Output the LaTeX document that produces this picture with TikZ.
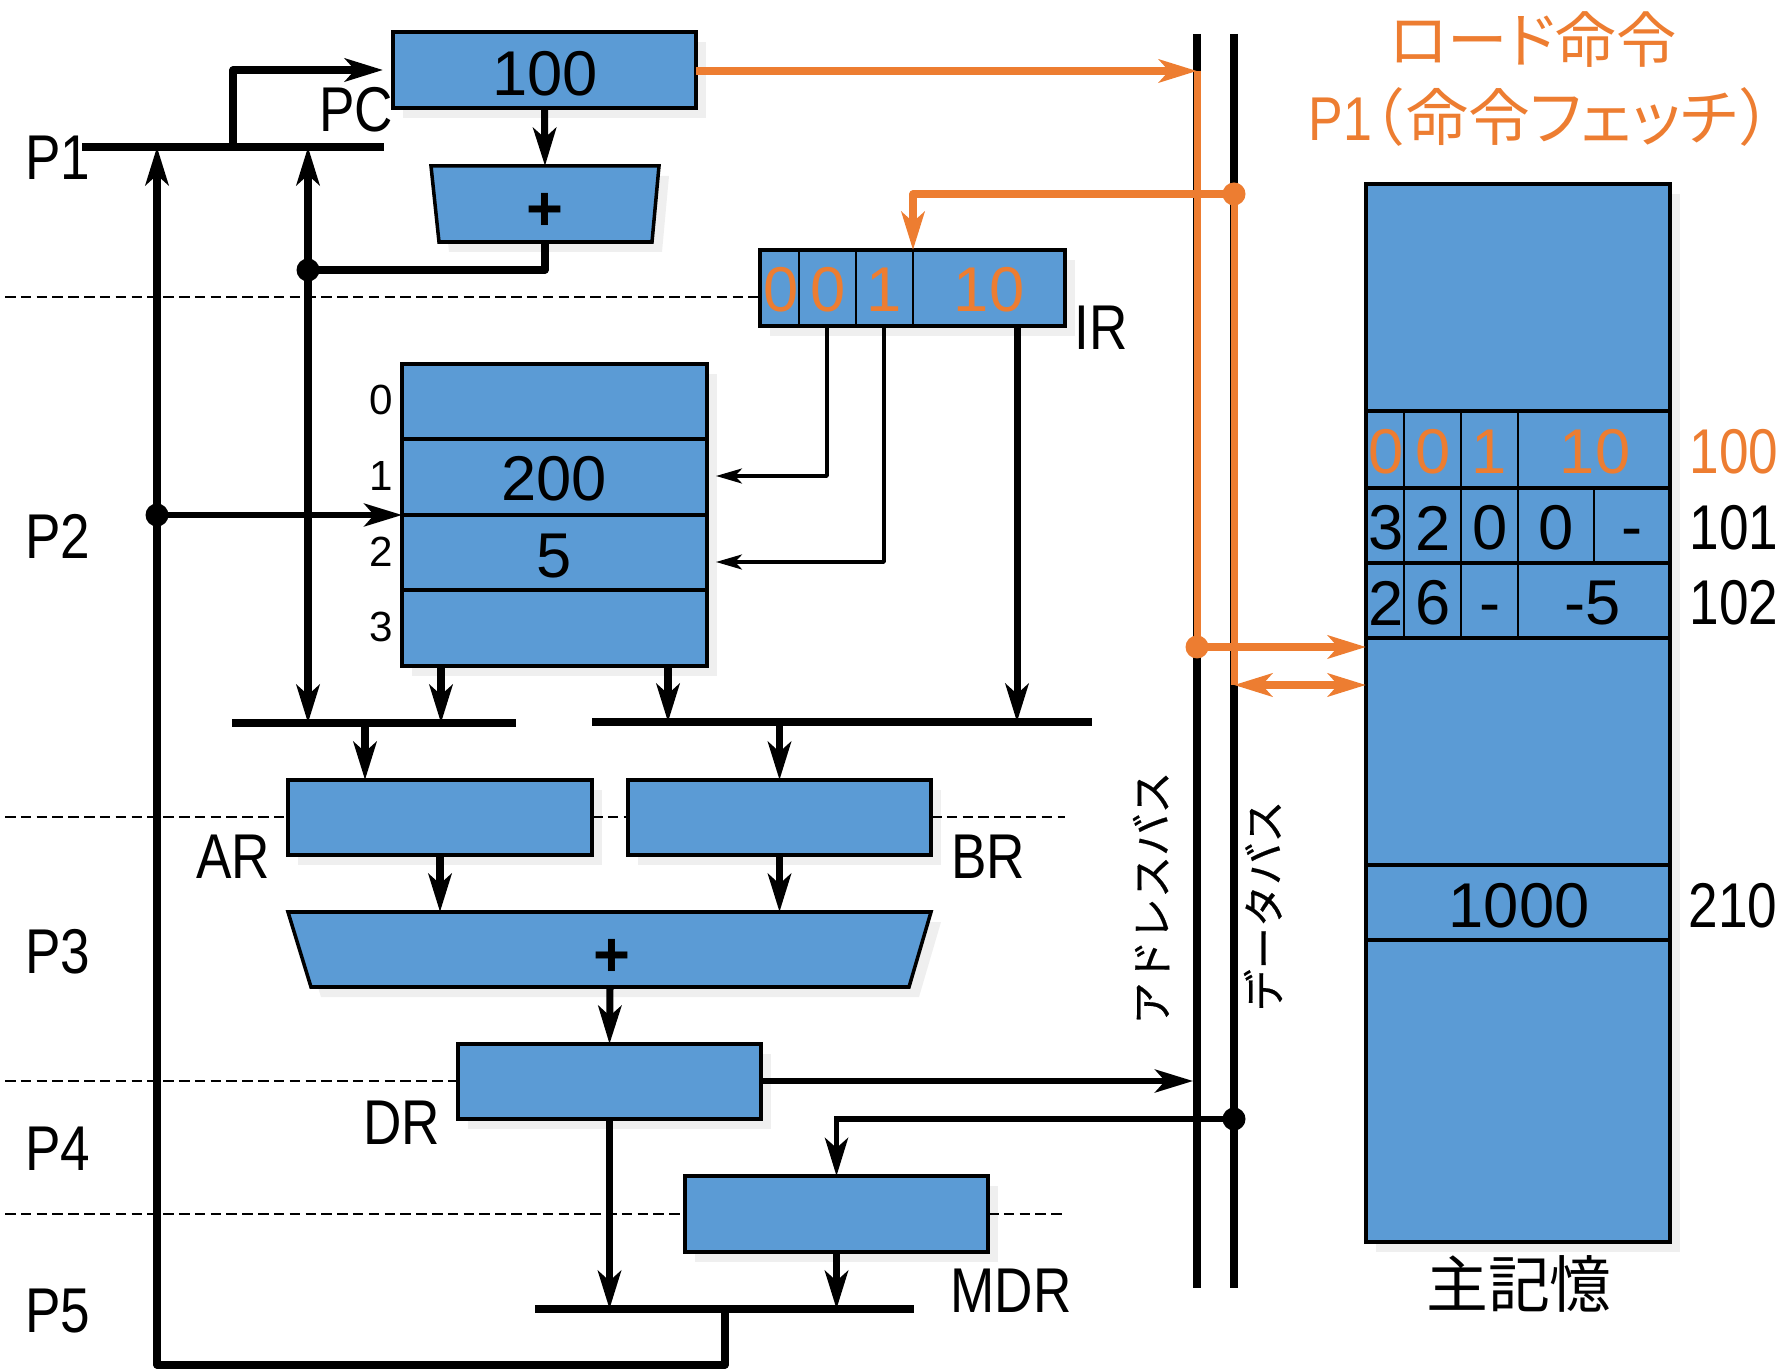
\documentclass[tikz,border=0pt]{standalone}
\usepackage{fontspec}
\setmainfont{Liberation Sans}
\newfontfamily\jpfont[RawFeature=+palt]{Noto Sans CJK JP}
\newfontfamily\jpbusfont[FakeBold=.5]{Noto Sans CJK JP}
\newfontfamily\narrowfont[FakeStretch=.84]{Liberation Sans}
\usetikzlibrary{arrows.meta,calc,positioning,shadows}
\definecolor{cellblue}{RGB}{91,155,213}
\definecolor{loadorange}{RGB}{237,125,49}
\definecolor{shadowgray}{RGB}{239,239,239}
\tikzset{
 softshadow/.style={drop shadow={shadow xshift=.1cm,shadow yshift=-.1cm,fill=shadowgray,opacity=1}},
 cell/.style={draw=black,fill=cellblue,line width=1pt,inner sep=0pt,outer sep=0pt,softshadow},
 adder/.style={draw=black,fill=cellblue,line width=1pt,line join=miter,softshadow},
 bigtext/.style={font=\fontsize{18}{20}\selectfont,inner sep=0pt},
 plustext/.style={font=\bfseries\fontsize{18}{20}\selectfont,inner sep=0pt},
 oranget/.style={bigtext,text=loadorange},
 label/.style={font=\narrowfont\fontsize{18}{20}\selectfont,inner sep=0pt},
 regno/.style={font=\fontsize{12}{14}\selectfont,inner sep=0pt},
 busname/.style={font=\jpbusfont\fontsize{12}{14}\selectfont,rotate=90,inner sep=0pt},
 bar/.style={line width=2.3pt},
 wire/.style={line width=2pt,line join=round},
 thinwire/.style={line width=1pt,line join=round,>={Stealth[length=2.6mm,width=1.5mm,inset=.7mm]}},
 phase/.style={line width=.5pt,dash pattern=on 3pt off 1.5pt},
 loadwire/.style={line width=2pt,draw=loadorange,line join=round,color=loadorange},
 dot/.style={circle,fill,inner sep=0pt,minimum size=.23cm},
 rowline/.style={line width=.9pt},
 cellline/.style={line width=.5pt},
}
\begin{document}
\begin{tikzpicture}[>={Stealth[length=3.8mm,width=2.3mm,inset=1mm]},x=1cm,y=-1cm]
 \useasboundingbox (0,0) rectangle (17.87,13.69);
 % phases
 \coordinate (dashA) at (.05,2.97);
 \coordinate (dashB) at (.05,8.17);
 \coordinate (dashC) at (.05,10.81);
 \coordinate (dashD) at (.05,12.14);
 \coordinate (dashE) at (10.65,8.17);
 \coordinate (dashF) at (10.65,12.14);
 \coordinate (incN) at (5.45,1.66);
 \coordinate (incS) at (5.45,2.42);
 \coordinate (aluN) at (6.10,9.12);
 \coordinate (aluS) at (6.10,9.87);
 \node[cell,minimum width=3.03cm,minimum height=.76cm] (pc) at (5.445,.70) {};
 \draw[adder] (4.31,1.66) -- (6.59,1.66) -- (6.52,2.42) -- (4.39,2.42) -- cycle;
 \node[cell,minimum width=3.05cm,minimum height=.76cm] (ir) at (9.125,2.88) {};
 \node[cell,minimum width=3.05cm,minimum height=3.02cm] (reg) at (5.545,5.15) {};
 \node[cell,minimum width=3.04cm,minimum height=.75cm] (ar) at (4.40,8.175) {};
 \node[cell,minimum width=3.03cm,minimum height=.75cm] (br) at (7.795,8.175) {};
 \draw[adder] (2.88,9.12) -- (9.31,9.12) -- (9.09,9.87) -- (3.11,9.87) -- cycle;
 \node[cell,minimum width=3.03cm,minimum height=.75cm] (dr) at (6.095,10.815) {};
 \node[cell,minimum width=3.03cm,minimum height=.76cm] (mdr) at (8.365,12.14) {};
 \node[cell,minimum width=3.04cm,minimum height=10.58cm] (mem) at (15.18,7.13) {};
 \draw[phase] (dashA) -- (dashA -| ir.west);
 \draw[phase] (dashB) -- (dashB -| ar.west);
 \draw[phase] (ar.east |- dashB) -- (br.west |- dashB);
 \draw[phase] (br.east |- dashB) -- (dashE);
 \draw[phase] (dashC) -- (dashC -| dr.west);
 \draw[phase] (dashD) -- (dashD -| mdr.west);
 \draw[phase] (mdr.east |- dashD) -- (dashF);
 % cell dividers
 \foreach \x in {7.99,8.56,9.13} \draw[cellline] (\x,2.50) -- (\x,3.26);
 \foreach \y in {4.39,5.15,5.90} \draw[rowline] (reg.west |- 0,\y) -- (reg.east |- 0,\y);
 \foreach \y in {4.11,4.88,5.63,6.38,8.65,9.40} \draw[rowline] (mem.west |- 0,\y) -- (mem.east |- 0,\y);
 \foreach \x in {14.04,14.61,15.18} \draw[cellline] (\x,4.11) -- (\x,6.38);
 \draw[cellline] (15.94,4.88) -- (15.94,5.63);
 % buses
 \coordinate (abus) at (11.97,.34);
 \coordinate (dbus) at (12.34,.34);
 \coordinate (abusend) at (11.97,12.88);
 \coordinate (dbusend) at (12.34,12.88);
 \draw[bar] (abus) -- (abusend);
 \draw[bar] (dbus) -- (dbusend);
 \coordinate (oneL) at (.82,1.47);
 \coordinate (oneR) at (3.84,1.47);
 \coordinate (oneA) at (1.57,1.47);
 \coordinate (oneB) at (2.33,1.47);
 \coordinate (oneC) at (3.08,1.47);
 \draw[bar] (oneL) -- (oneR);
 \coordinate (aL) at (2.32,7.23);
 \coordinate (aR) at (5.16,7.23);
 \coordinate (bL) at (5.92,7.22);
 \coordinate (bR) at (10.92,7.22);
 \coordinate (cL) at (5.35,13.09);
 \coordinate (cR) at (9.14,13.09);
 \draw[bar] (aL) -- (aR);
 \draw[bar] (bL) -- (bR);
 \draw[bar] (cL) -- (cR);
 % wires
 \node[dot] (incdot) at (3.08,2.70) {};
 \node[dot] (regdot) at (1.57,5.15) {};
 \coordinate (pcin) at (3.83,.70);
 \coordinate (bottomC) at (7.25,13.65);
 \coordinate (bottomL) at (1.57,13.65);
 \draw[wire,->] (oneB) -- (oneB |- pcin) -- (pcin);
 \draw[wire,->] (pc.south) -- (incN);
 \draw[wire] (incS) -- (incS |- incdot) -- (incdot.center);
 \draw[wire,<->] (oneC) -- (oneC |- aL);
 \draw[wire,->] (bottomC |- cL) -- (bottomC) -- (bottomL) -- (oneA);
 \draw[line width=1.5pt,->] (regdot.center) -- (reg.west);
 \coordinate (irA) at (8.27,3.26);
 \coordinate (irB) at (8.84,3.26);
 \coordinate (irC) at (10.17,3.26);
 \coordinate (regA) at (7.16,4.76);
 \coordinate (regB) at (7.16,5.62);
 \draw[thinwire,->] (irA) -- (irA |- regA) -- (regA);
 \draw[thinwire,->] (irB) -- (irB |- regB) -- (regB);
 \draw[wire,->] (irC) -- (irC |- bL);
 \coordinate (regL) at (4.41,6.66);
 \coordinate (regR) at (6.68,6.66);
 \draw[wire,->] (regL) -- (regL |- aL);
 \draw[wire,->] (regR) -- (regR |- bL);
 \coordinate (arin) at (3.65,7.23);
 \draw[wire,->] (arin) -- (arin |- ar.north);
 \draw[wire,->] (br.north |- bL) -- (br.north);
 \draw[wire,->] (ar.south) -- (ar.south |- aluN);
 \draw[wire,->] (br.south) -- (br.south |- aluN);
 \draw[wire,->] (aluS) -- (dr.north);
 \coordinate (drout) at (11.93,10.81);
 \draw[line width=1.6pt,->] (dr.east |- drout) -- (drout);
 \draw[wire,->] (dr.south) -- (dr.south |- cL);
 \node[dot] (ddotB) at (12.34,11.19) {};
 \draw[line width=1.6pt,->] (ddotB.center) -- (mdr.north |- ddotB) -- (mdr.north);
 \draw[wire,->] (mdr.south) -- (mdr.south |- cL);
 % load instruction fetch
 \coordinate (abusO) at (11.97,.71);
 \coordinate (dbusO) at (12.34,6.85);
 \coordinate (irtop) at (9.13,2.50);
 \node[dot,loadorange] (adot) at (11.97,6.47) {};
 \node[dot,loadorange] (ddot) at (12.34,1.94) {};
 \draw[loadwire] (abusO) -- (adot.center);
 \draw[loadwire] (ddot.center) -- (dbusO);
 \draw[loadwire,->] (pc.east |- abusO) -- (abusO);
 \draw[loadwire,->] (ddot.center) -- (ddot -| irtop) -- (irtop);
 \draw[loadwire,->] (adot.center) -- (adot -| mem.west);
 \draw[loadwire,<->] (dbusO) -- (dbusO -| mem.west);
 % texts
 \node[bigtext] (pcval) at (5.45,.74) {100};
 \node[plustext] (incplus) at (5.45,2.12) {+};
 \node[plustext] (aluplus) at (6.12,9.58) {+};
 \node[label] (pOne) at (.58,1.58) {P1};
 \node[label] (pTwo) at (.58,5.36) {P2};
 \node[label] (pThree) at (.58,9.52) {P3};
 \node[label] (pFour) at (.58,11.49) {P4};
 \node[label] (pFive) at (.58,13.11) {P5};
 \node[label] (pcname) at (3.56,1.10) {PC};
 \node[label] (irname) at (11.01,3.28) {IR};
 \node[label] (arname) at (2.33,8.57) {AR};
 \node[label] (brname) at (9.88,8.57) {BR};
 \node[label] (drname) at (4.02,11.23) {DR};
 \node[label] (mdrname) at (10.11,12.91) {MDR};
 \foreach \i/\y in {0/4.00,1/4.76,2/5.52,3/6.27} \node[regno] (no\i) at (3.81,\y) {\i};
 \node[bigtext] (regOne) at (5.54,4.79) {200};
 \node[bigtext] (regTwo) at (5.54,5.56) {5};
 \foreach \n/\x/\t in {a/7.81/0,b/8.28/0,c/8.84/1,d/9.89/10} \node[oranget] (ir\n) at (\x,2.90) {\t};
 \foreach \n/\x/\t in {a/13.86/0,b/14.33/0,c/14.89/1,d/15.95/10} \node[oranget] (mem\n) at (\x,4.52) {\t};
 \foreach \n/\x/\t in {a/13.86/3,b/14.33/2,c/14.90/0,d/15.56/0} \node[bigtext] (memB\n) at (\x,5.28) {\t};
 \node[bigtext] (memBe) at (16.32,5.39) {-};
 \foreach \n/\x/\t in {a/13.86/2,b/14.33/6,d/15.93/-5} \node[bigtext] (memC\n) at (\x,6.03) {\t};
 \node[bigtext] (memCc) at (14.90,6.15) {-};
 \node[bigtext] (memD) at (15.19,9.06) {1000};
 \node[label,text=loadorange] (adrA) at (17.34,4.52) {100};
 \node[label] (adrB) at (17.34,5.28) {101};
 \node[label] (adrC) at (17.34,6.03) {102};
 \node[label] (adrD) at (17.33,9.06) {210};
 \node[font=\jpfont\fontsize{17.6}{20}\selectfont,inner sep=0pt] (memname) at (15.19,12.84) {主記憶};
 \node[busname] (abusname) at (11.51,8.98) {アドレスバス};
 \node[busname] (dbusname) at (12.63,9.06) {データバス};
 \node[font=\jpfont\fontsize{17.2}{20}\selectfont,text=loadorange,inner sep=0pt] (titleA) at (15.33,.40) {ロード命令};
 \node[font=\jpfont\fontsize{17.6}{20}\selectfont,text=loadorange,inner sep=0pt] (titleB) at (15.40,1.17) {{\narrowfont P1}（\hspace{.05em}命令フェッチ\hspace{.05em}）};
\end{tikzpicture}
\end{document}
